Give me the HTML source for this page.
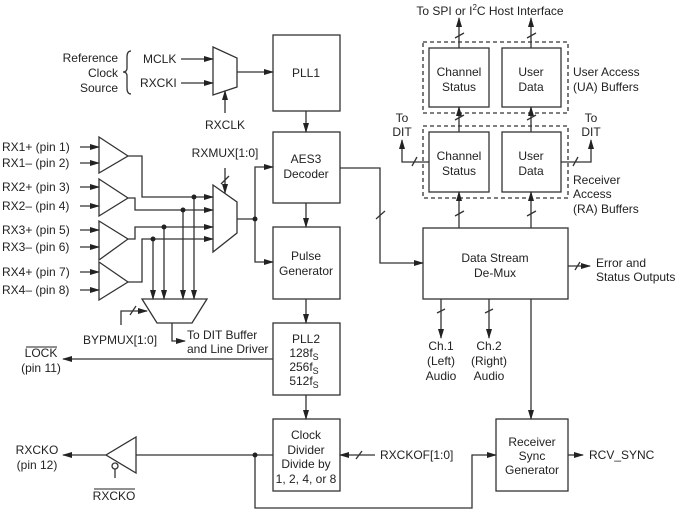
<!DOCTYPE html>
<html><head><style>
body{margin:0;background:#fff}
svg{display:block;font-family:"Liberation Sans",Arial,sans-serif;font-size:12px;fill:#222}
</style></head><body>
<svg width="676" height="510" viewBox="0 0 676 510" xmlns="http://www.w3.org/2000/svg">
<defs>
<marker id="a" markerWidth="10" markerHeight="6" refX="9" refY="3" orient="auto" markerUnits="userSpaceOnUse"><path d="M0,0 L10,3 L0,6 z" fill="#222"/></marker>
</defs>
<g stroke="#333" stroke-width="1.3" fill="none">
<!-- main boxes -->
<rect x="273" y="35" width="67" height="76"/>
<rect x="273" y="132" width="67" height="71"/>
<rect x="273" y="227" width="67" height="72"/>
<rect x="273" y="323" width="67" height="72"/>
<rect x="273" y="419" width="67" height="72"/>
<rect x="423" y="228" width="145" height="71"/>
<rect x="496" y="419" width="72" height="72"/>
<rect x="429" y="48" width="60" height="59"/>
<rect x="502" y="48" width="59" height="59"/>
<rect x="429" y="132" width="60" height="60"/>
<rect x="502" y="132" width="59" height="60"/>
<rect x="423" y="42" width="145" height="71" stroke-dasharray="4,3"/>
<rect x="423" y="126" width="145" height="72" stroke-dasharray="4,3"/>
<!-- muxes -->
<path d="M213,47 L237,58 L237,87 L213,95 Z"/>
<path d="M213,185 L237,202 L237,233 L213,252 Z"/>
<path d="M142,299 L207,299 L192,323 L157,323 Z"/>
<!-- receivers -->
<path d="M99,137 L128,156 L99,173 Z"/>
<path d="M99,179 L128,198 L99,216 Z"/>
<path d="M99,221 L128,239 L99,260 Z"/>
<path d="M99,262 L128,282 L99,300 Z"/>
<path d="M136,437 L106,455 L136,473 Z"/>
<circle cx="115" cy="466" r="3"/>
<!-- brace -->
<path d="M131,51 Q127,51 127,57 L127,68 Q127,72 123,72 Q127,72 127,76 L127,88 Q127,94 131,94"/>
</g>
<g stroke="#333" stroke-width="1.3" fill="none" marker-end="url(#a)">
<line x1="181" y1="59" x2="213" y2="59"/>
<line x1="181" y1="83" x2="213" y2="83"/>
<line x1="237" y1="72" x2="273" y2="72"/>
<line x1="225" y1="113" x2="225" y2="91"/>
<line x1="306" y1="111" x2="306" y2="132"/>
<line x1="306" y1="203" x2="306" y2="227"/>
<line x1="306" y1="299" x2="306" y2="323"/>
<line x1="306" y1="395" x2="306" y2="419"/>
<line x1="80" y1="147" x2="99" y2="147"/>
<line x1="80" y1="163" x2="99" y2="163"/>
<line x1="80" y1="187" x2="99" y2="187"/>
<line x1="80" y1="206" x2="99" y2="206"/>
<line x1="80" y1="230" x2="99" y2="230"/>
<line x1="80" y1="247" x2="99" y2="247"/>
<line x1="80" y1="272" x2="99" y2="272"/>
<line x1="80" y1="290" x2="99" y2="290"/>
<polyline points="128,156 142,156 142,197 213,197"/>
<polyline points="128,198 135,198 135,210 213,210"/>
<polyline points="128,239 135,239 135,227 213,227"/>
<polyline points="128,282 142,282 142,239 213,239"/>
<line x1="153" y1="239" x2="153" y2="299"/>
<line x1="164" y1="227" x2="164" y2="299"/>
<line x1="183" y1="210" x2="183" y2="299"/>
<line x1="194" y1="197" x2="194" y2="299"/>
<line x1="225" y1="168" x2="225" y2="193"/>
<polyline points="255,219 255,167 273,167"/>
<polyline points="255,219 255,262 273,262"/>
<polyline points="121,325 121,311 147,311"/>
<polyline points="172,323 172,341 185,341"/>
<line x1="273" y1="359" x2="63" y2="359"/>
<line x1="106" y1="455" x2="63" y2="455"/>
<polyline points="255,455 255,508 472,508 472,455 496,455"/>
<line x1="375" y1="455" x2="340" y2="455"/>
<line x1="568" y1="455" x2="583" y2="455"/>
<polyline points="340,168 380,168 380,263 423,263"/>
<line x1="568" y1="266" x2="590" y2="266"/>
<line x1="441" y1="299" x2="441" y2="338"/>
<line x1="489" y1="299" x2="489" y2="338"/>
<line x1="531" y1="299" x2="531" y2="419"/>
<line x1="459" y1="228" x2="459" y2="192"/>
<line x1="531" y1="228" x2="531" y2="192"/>
<line x1="459" y1="132" x2="459" y2="107"/>
<line x1="531" y1="132" x2="531" y2="107"/>
<line x1="459" y1="48" x2="459" y2="18"/>
<line x1="531" y1="48" x2="531" y2="18"/>
<polyline points="429,162 402,162 402,140"/>
<polyline points="561,162 591,162 591,140"/>
</g>
<g stroke="#333" stroke-width="1.3">
<line x1="136" y1="455" x2="273" y2="455"/>
<line x1="115" y1="469" x2="115" y2="478"/>
<line x1="237" y1="219" x2="255" y2="219"/>
<!-- slashes -->
<line x1="221" y1="184" x2="229" y2="176"/>
<line x1="130" y1="315" x2="136" y2="306"/>
<line x1="376" y1="219" x2="385" y2="211"/>
<line x1="356" y1="459" x2="362" y2="451"/>
<line x1="575" y1="270" x2="580" y2="262"/>
<line x1="437" y1="313" x2="445" y2="309"/>
<line x1="485" y1="313" x2="493" y2="309"/>
<line x1="455" y1="216" x2="464" y2="211"/>
<line x1="527" y1="216" x2="536" y2="211"/>
<line x1="455" y1="120" x2="464" y2="115"/>
<line x1="527" y1="120" x2="536" y2="115"/>
<line x1="455" y1="38" x2="464" y2="33"/>
<line x1="527" y1="38" x2="536" y2="33"/>
<line x1="412" y1="166" x2="417" y2="157"/>
<line x1="573" y1="166" x2="578" y2="157"/>
</g>
<g fill="#222">
<circle cx="194" cy="197" r="2.5"/><circle cx="183" cy="210" r="2.5"/>
<circle cx="164" cy="227" r="2.5"/><circle cx="153" cy="239" r="2.5"/>
<circle cx="255" cy="219" r="2.5"/><circle cx="255" cy="455" r="2.5"/>
</g>
<g text-anchor="middle">
<text x="306" y="77">PLL1</text>
<text x="306" y="163">AES3</text><text x="306" y="178">Decoder</text>
<text x="306" y="260">Pulse</text><text x="306" y="275">Generator</text>
<text x="306" y="343">PLL2</text>
<text x="304" y="357">128f<tspan font-size="9" dy="3">S</tspan></text>
<text x="304" y="371">256f<tspan font-size="9" dy="3">S</tspan></text>
<text x="304" y="385">512f<tspan font-size="9" dy="3">S</tspan></text>
<text x="306" y="439">Clock</text><text x="306" y="454">Divider</text>
<text x="306" y="468">Divide by</text><text x="306" y="483">1, 2, 4, or 8</text>
<text x="459" y="76">Channel</text><text x="459" y="91">Status</text>
<text x="531" y="76">User</text><text x="531" y="91">Data</text>
<text x="459" y="160">Channel</text><text x="459" y="175">Status</text>
<text x="531" y="160">User</text><text x="531" y="175">Data</text>
<text x="495" y="262">Data Stream</text><text x="495" y="277">De-Mux</text>
<text x="532" y="446">Receiver</text><text x="532" y="460">Sync</text><text x="532" y="474">Generator</text>
<text x="490" y="15">To SPI or I<tspan font-size="8" dy="-5">2</tspan><tspan dy="5">C Host Interface</tspan></text>
<text x="402" y="122">To</text><text x="402" y="136">DIT</text>
<text x="591" y="122">To</text><text x="591" y="136">DIT</text>
<text x="441" y="350">Ch.1</text><text x="441" y="365">(Left)</text><text x="441" y="380">Audio</text>
<text x="489" y="350">Ch.2</text><text x="489" y="365">(Right)</text><text x="489" y="380">Audio</text>
<text x="225" y="129">RXCLK</text>
<text x="225" y="157">RXMUX[1:0]</text>
<text x="41" y="357">LOCK</text><line x1="26" y1="347" x2="57" y2="347" stroke="#222" stroke-width="1"/>
<text x="41" y="372">(pin 11)</text>
<text x="37" y="454">RXCKO</text><text x="37" y="469">(pin 12)</text>
<text x="114" y="500">RXCKO</text><line x1="94" y1="489" x2="135" y2="489" stroke="#222" stroke-width="1"/>
</g>
<g text-anchor="end">
<text x="118" y="62">Reference</text><text x="118" y="77">Clock</text><text x="118" y="92">Source</text>
</g>
<text x="143" y="63">MCLK</text><text x="140" y="87">RXCKI</text>
<text x="2" y="151">RX1+ (pin 1)</text><text x="2" y="167">RX1– (pin 2)</text>
<text x="2" y="191">RX2+ (pin 3)</text><text x="2" y="210">RX2– (pin 4)</text>
<text x="2" y="234">RX3+ (pin 5)</text><text x="2" y="251">RX3– (pin 6)</text>
<text x="2" y="276">RX4+ (pin 7)</text><text x="2" y="294">RX4– (pin 8)</text>
<text x="83" y="344">BYPMUX[1:0]</text>
<text x="187" y="339">To DIT Buffer</text><text x="187" y="353">and Line Driver</text>
<text x="380" y="459">RXCKOF[1:0]</text>
<text x="589" y="459">RCV_SYNC</text>
<text x="596" y="267">Error  and</text><text x="596" y="281">Status Outputs</text>
<text x="573" y="76">User Access</text><text x="573" y="91">(UA) Buffers</text>
<text x="573" y="184">Receiver</text><text x="573" y="198">Access</text><text x="573" y="213">(RA) Buffers</text>
</svg>
</body></html>
